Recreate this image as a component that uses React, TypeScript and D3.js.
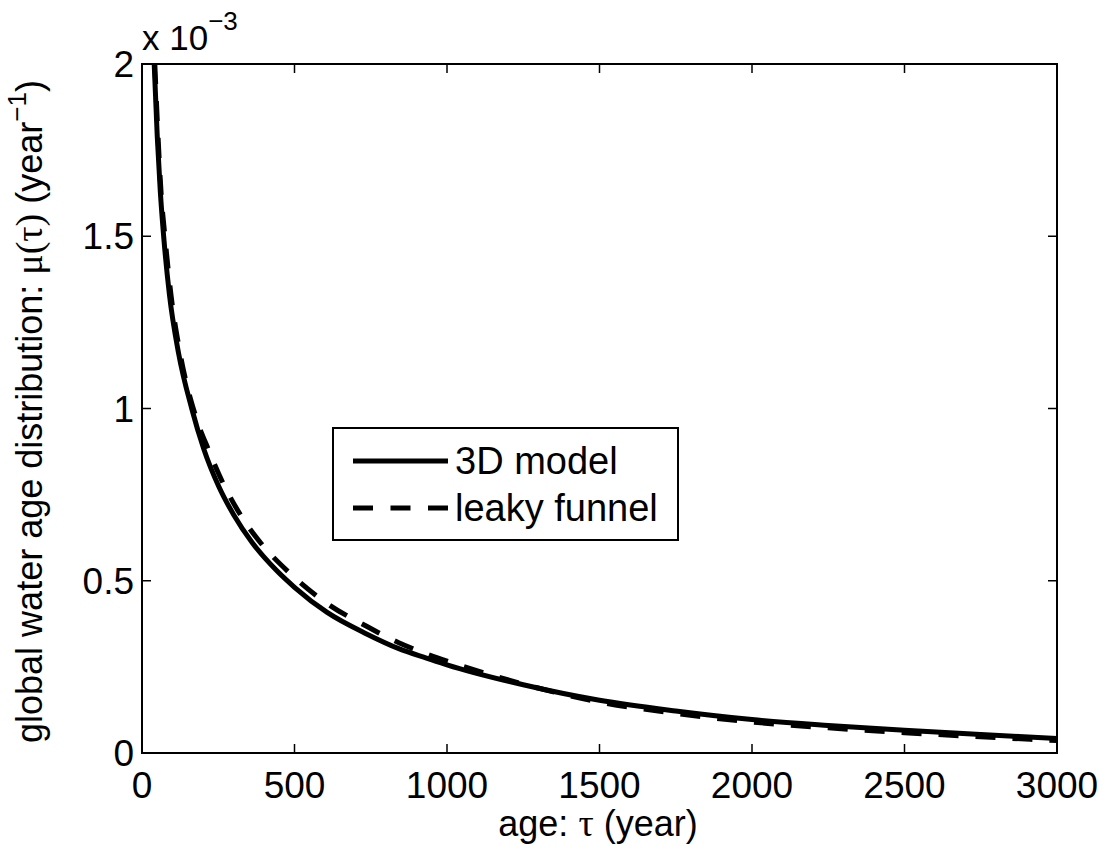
import React from "react";
import * as d3 from "d3";

// age (year) and distribution values (units of 1e-3 per year)
const modelAge = [40, 50, 60, 71, 90, 120, 163, 202, 251, 301, 361, 443, 500, 607, 738, 842, 935, 1000, 1250, 1500, 1750, 2000, 2250, 2500, 2750, 3000];
const modelMu = [2.0, 1.79, 1.63, 1.5, 1.33, 1.16, 1.0, 0.884, 0.775, 0.691, 0.611, 0.528, 0.481, 0.408, 0.345, 0.303, 0.275, 0.256, 0.198, 0.153, 0.122, 0.097, 0.08, 0.066, 0.054, 0.042];

const funnelAge = [42, 52, 63, 75, 95, 125, 175, 219, 268, 323, 390, 481, 607, 738, 842, 935, 1038, 1143, 1250, 1500, 1750, 2000, 2250, 2500, 2750, 3000];
const funnelMu = [2.0, 1.8, 1.62, 1.5, 1.33, 1.16, 0.98, 0.878, 0.779, 0.691, 0.609, 0.525, 0.434, 0.367, 0.32, 0.287, 0.256, 0.227, 0.2, 0.148, 0.115, 0.09, 0.073, 0.059, 0.047, 0.036];

const xTicks = [0, 500, 1000, 1500, 2000, 2500, 3000];
const yTicks = [0, 0.5, 1, 1.5, 2];
const yTickLabels = ["0", "0.5", "1", "1.5", "2"];

const legendLabels = ["3D model", "leaky funnel"];

const W = 1115;
const H = 850;
const margin = { top: 64, right: 58, bottom: 97, left: 142 };
const font = "'Liberation Sans', Arial, Helvetica, sans-serif";
const symFont = "'Liberation Serif', 'Times New Roman', serif";

export default function App() {
  const x = d3.scaleLinear().domain([0, 3000]).range([margin.left, W - margin.right]);
  const y = d3.scaleLinear().domain([0, 2]).range([H - margin.bottom, margin.top]);

  const line = d3
    .line<[number, number]>()
    .x((d) => x(d[0]))
    .y((d) => y(d[1]))
    .curve(d3.curveMonotoneX);

  const model = modelAge.map((a, i) => [a, modelMu[i]] as [number, number]);
  const funnel = funnelAge.map((a, i) => [a, funnelMu[i]] as [number, number]);

  const x0 = margin.left;
  const x1 = W - margin.right;
  const y0 = H - margin.bottom;
  const y1 = margin.top;
  const tick = 9;

  return (
    <svg width={W} height={H} style={{ position: "absolute", left: 0, top: 0, background: "#fff" }}>
      <defs>
        <clipPath id="plot">
          <rect x={x0} y={y1} width={x1 - x0} height={y0 - y1} />
        </clipPath>
      </defs>
      <rect width={W} height={H} fill="#fff" />

      <g clipPath="url(#plot)" fill="none" stroke="#000" strokeWidth={5}>
        <path d={line(model) || ""} />
        <path d={line(funnel) || ""} strokeDasharray="20 17" />
      </g>

      {/* box */}
      <rect x={x0} y={y1} width={x1 - x0} height={y0 - y1} fill="none" stroke="#000" strokeWidth={2} />

      {/* x ticks */}
      {xTicks.map((t) => (
        <g key={"x" + t}>
          <line x1={x(t)} x2={x(t)} y1={y0} y2={y0 - tick} stroke="#000" strokeWidth={1.5} />
          <line x1={x(t)} x2={x(t)} y1={y1} y2={y1 + tick} stroke="#000" strokeWidth={1.5} />
          <text x={x(t)} y={y0 + 45} fontSize={37} fontFamily={font} textAnchor="middle">
            {t}
          </text>
        </g>
      ))}

      {/* y ticks */}
      {yTicks.map((t, i) => (
        <g key={"y" + t}>
          <line x1={x0} x2={x0 + tick} y1={y(t)} y2={y(t)} stroke="#000" strokeWidth={1.5} />
          <line x1={x1} x2={x1 - tick} y1={y(t)} y2={y(t)} stroke="#000" strokeWidth={1.5} />
          <text x={x0 - 8} y={y(t) + 13} fontSize={37} fontFamily={font} textAnchor="end">
            {yTickLabels[i]}
          </text>
        </g>
      ))}

      {/* exponent */}
      <text x={x0} y={50} fontSize={35} fontFamily={font}>
        x 10
        <tspan dy={-20} fontSize={26}>
          −3
        </tspan>
      </text>

      {/* axis labels */}
      <text x={598} y={836} fontSize={36} fontFamily={font} textAnchor="middle">
        age:{" "}
        <tspan fontFamily={symFont} fontSize={38}>
          τ
        </tspan>{" "}
        (year)
      </text>
      <text
        transform={`translate(42, ${(y0 + y1) / 2 + 3}) rotate(-90)`}
        fontSize={36}
        fontFamily={font}
        textAnchor="middle"
      >
        global water age distribution:{" "}
        <tspan fontFamily={symFont} fontSize={38}>
          μ(τ)
        </tspan>{" "}
        (year
        <tspan dy={-16} fontSize={26}>
          −1
        </tspan>
        <tspan dy={16}>)</tspan>
      </text>

      {/* legend */}
      <g>
        <rect x={333} y={428} width={345} height={112} fill="#fff" stroke="#000" strokeWidth={2} />
        <line x1={353} x2={448} y1={461} y2={461} stroke="#000" strokeWidth={5} />
        <line x1={353} x2={448} y1={508} y2={508} stroke="#000" strokeWidth={5} strokeDasharray="20 17.5" />
        <text x={455} y={474} fontSize={38} fontFamily={font}>
          {legendLabels[0]}
        </text>
        <text x={455} y={521} fontSize={38} fontFamily={font}>
          {legendLabels[1]}
        </text>
      </g>
    </svg>
  );
}
